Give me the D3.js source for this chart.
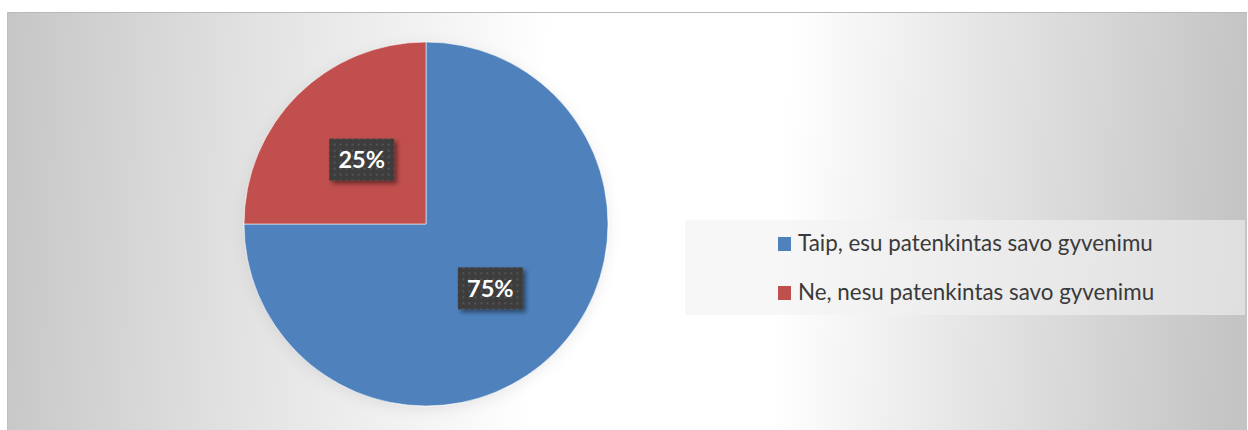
<html lang="en">
<head>
    <meta charset="UTF-8">
    <title>Pie</title>
    <style>
        body { margin: 0; background: #ffffff; }
        svg { display: block; }
    </style>
</head>
<body>
<div class="chart"></div>

<script src="https://d3js.org/d3.v7.min.js"></script>
<script>
    const categories = ['Taip, esu patenkintas savo gyvenimu', 'Ne, nesu patenkintas savo gyvenimu']
    const values = [75, 25]
    const valueLabels = ['75%', '25%']
    const colors = ['#4f81bd', '#c0504d']

    const width = 1248, height = 430
    const area = {x: 7, y: 12, w: 1240, h: 418}
    const pieCenter = {x: 426, y: 224}, radius = 182

    const svg = d3.select('.chart')
        .append('svg')
        .attr('width', width)
        .attr('height', height)

    const defs = svg.append('defs')

    // background: light band in the middle, grey at both sides
    const bg = defs.append('linearGradient')
        .attr('id', 'bg')
        .attr('gradientUnits', 'userSpaceOnUse')
        .attr('x1', area.x).attr('x2', area.x + area.w)
        .attr('y1', 0).attr('y2', 60)
    const bgStops = [[0, '#c6c6c6'], [0.2, '#e2e2e2'], [0.44, '#ffffff'], [0.63, '#ffffff'],
        [0.8, '#e3e3e3'], [1, '#c4c4c4']]
    bg.selectAll('stop').data(bgStops).enter().append('stop')
        .attr('offset', d => d[0])
        .attr('stop-color', d => d[1])

    // dotted pattern for the data labels
    const pat = defs.append('pattern')
        .attr('id', 'dots')
        .attr('patternUnits', 'userSpaceOnUse')
        .attr('width', 6).attr('height', 6)
    pat.append('rect').attr('width', 6).attr('height', 6).attr('fill', '#3d3d3d')
    pat.append('rect').attr('x', 2).attr('y', 2).attr('width', 2).attr('height', 2).attr('fill', '#545454')

    const shadow = defs.append('filter').attr('id', 'boxShadow')
        .attr('x', '-20%').attr('y', '-20%').attr('width', '150%').attr('height', '150%')
    shadow.append('feDropShadow')
        .attr('dx', 3).attr('dy', 3).attr('stdDeviation', 2)
        .attr('flood-color', '#000').attr('flood-opacity', 0.45)

    const pieShadow = defs.append('filter').attr('id', 'pieShadow')
        .attr('x', '-20%').attr('y', '-20%').attr('width', '140%').attr('height', '140%')
    pieShadow.append('feDropShadow')
        .attr('dx', 0).attr('dy', 3).attr('stdDeviation', 7)
        .attr('flood-color', '#000').attr('flood-opacity', 0.08)

    svg.append('rect')
        .attr('x', area.x).attr('y', area.y)
        .attr('width', area.w).attr('height', area.h)
        .attr('fill', 'url(#bg)')
    // thin border on top and left
    svg.append('line')
        .attr('x1', area.x).attr('x2', area.x + area.w)
        .attr('y1', area.y + 0.5).attr('y2', area.y + 0.5)
        .attr('stroke', '#b9b9b9')
    svg.append('line')
        .attr('x1', area.x + 0.5).attr('x2', area.x + 0.5)
        .attr('y1', area.y).attr('y2', area.y + area.h)
        .attr('stroke', '#c0c0c0')

    // Pie
    const pie = d3.pie().sort(null).value(d => d)
    const arcs = pie(values)
    const arc = d3.arc().innerRadius(0).outerRadius(radius)

    const g = svg.append('g')
        .attr('transform', 'translate(' + pieCenter.x + ',' + pieCenter.y + ')')

    g.append('g')
        .attr('filter', 'url(#pieShadow)')
        .selectAll('path')
        .data(arcs)
        .enter()
        .append('path')
        .attr('d', arc)
        .attr('fill', (d, i) => colors[i])
        .attr('stroke', 'rgba(255,255,255,0.55)')
        .attr('stroke-width', 1)

    // data labels
    const labels = g.selectAll('.lbl')
        .data(arcs)
        .enter()
        .append('g')
        .attr('class', 'lbl')
        .attr('transform', d => 'translate(' + arc.centroid(d) + ')')

    const boxW = 65, boxH = 42
    labels.append('rect')
        .attr('x', -boxW / 2).attr('y', -boxH / 2)
        .attr('width', boxW).attr('height', boxH)
        .attr('fill', 'url(#dots)')
        .attr('filter', 'url(#boxShadow)')
    labels.append('text')
        .text((d, i) => valueLabels[i])
        .attr('text-anchor', 'middle')
        .attr('dy', '0.36em')
        .attr('fill', '#ffffff')
        .style('font-family', 'Lato, "Open Sans", sans-serif')
        .style('font-weight', 'bold')
        .style('font-size', '23.5px')

    // Legend
    const legend = svg.append('g')
    legend.append('rect')
        .attr('x', 685).attr('y', 220)
        .attr('width', 560).attr('height', 95)
        .attr('fill', '#f2f2f2')
        .attr('fill-opacity', 0.6)

    const items = legend.selectAll('.item')
        .data(categories)
        .enter()
        .append('g')
        .attr('class', 'item')
        .attr('transform', (d, i) => 'translate(778,' + (237 + i * 49) + ')')
    items.append('rect')
        .attr('width', 13).attr('height', 14)
        .attr('fill', (d, i) => colors[i])
    const texts = items.append('text')
        .text(d => d)
        .attr('x', 20)
        .attr('y', 14)
        .attr('fill', '#3a3a3a')
        .style('font-family', 'Lato, "Open Sans", sans-serif')
        .style('font-size', '20px')

    // fit font size to the measured legend width
    const w0 = texts.nodes()[0].getComputedTextLength()
    const fs = 20 * 355 / w0
    texts.style('font-size', fs.toFixed(2) + 'px')
</script>
</body>
</html>
